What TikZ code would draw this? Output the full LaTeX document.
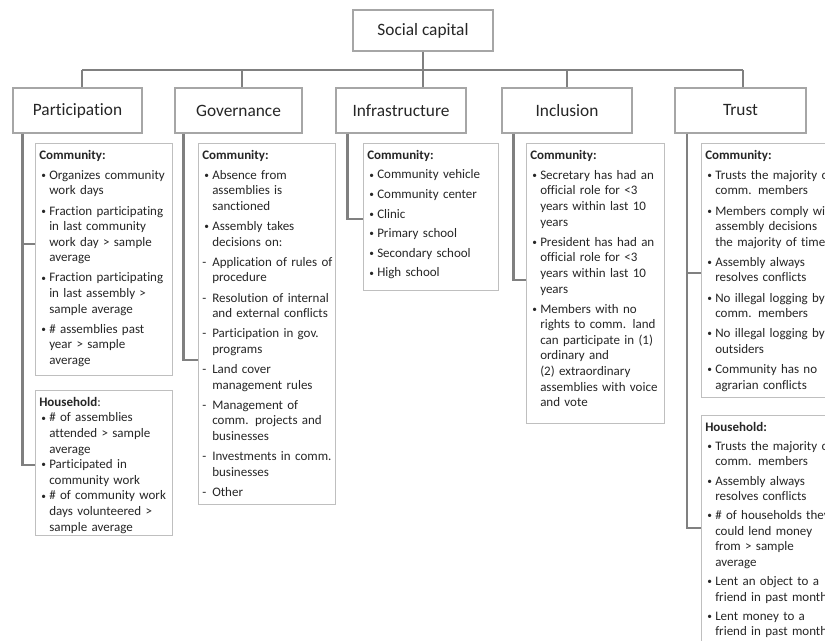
\documentclass[tikz,border=0pt]{standalone}
\usepackage{fontspec}
\setmainfont{Carlito}[Ligatures=NoCommon]
\usetikzlibrary{calc}
\newdimen\pxu \pxu=0.75pt
\newcommand{\itm}[2][4.5\pxu]{\par\vspace{#1}\hangindent=10\pxu\hangafter=1\noindent\makebox[10\pxu][l]{\hspace{2\pxu}\raisebox{0.8\pxu}{\scalebox{0.72}{•}}}#2}
\newcommand{\dsh}[2][4.5\pxu]{\par\vspace{#1}\hangindent=10\pxu\hangafter=1\noindent\makebox[10\pxu][l]{-}#2}
\newcommand{\hd}[1]{\noindent\rule{0pt}{10\pxu}#1}
\tikzset{
  lvl/.style={draw=gray!70, line width=0.8pt, fill=white, inner sep=0pt,
    minimum height=45\pxu, font=\fontsize{13pt}{15pt}\selectfont, text=black!85},
  det/.style={draw=gray!50, line width=0.8pt, fill=white, inner sep=0pt, anchor=north west},
  txt/.style={anchor=north west, inner sep=0pt, text width=200\pxu, align=left,
    font=\fontsize{9.75pt}{11.7pt}\selectfont, text=black!85},
  conn/.style={draw=gray, line width=1.6pt}
}
\begin{document}
\begin{tikzpicture}[x=0.75pt, y=-0.75pt]
\useasboundingbox (0,0) rectangle (825,641);
\clip (0,0) rectangle (825,641);

% top and level-1 boxes
\node[lvl, minimum width=140\pxu, minimum height=41\pxu] (soc) at (423,30.5) {Social capital};
\node[lvl, minimum width=129\pxu] (part) at (77.5,110.5) {Participation};
\node[lvl, minimum width=127\pxu] (gov) at (238.5,110.5) {Governance};
\node[lvl, minimum width=130\pxu] (infra) at (401,110.5) {Infrastructure};
\node[lvl, minimum width=130\pxu] (incl) at (567,110.5) {Inclusion};
\node[lvl, minimum width=131\pxu] (trust) at (740.5,110.5) {Trust};

% detail boxes
\node[det, minimum width=137\pxu, minimum height=232\pxu] (pcom) at (35,143) {};
\node[det, minimum width=137\pxu, minimum height=145\pxu] (phh) at (35,390) {};
\node[det, minimum width=137\pxu, minimum height=361\pxu] (gcom) at (198,143) {};
\node[det, minimum width=135\pxu, minimum height=147\pxu] (icom) at (363,143) {};
\node[det, minimum width=138\pxu, minimum height=280\pxu] (ncom) at (526,143) {};
\node[det, minimum width=140\pxu, minimum height=254\pxu] (tcom) at (701,143) {};
\node[det, minimum width=140\pxu, minimum height=260\pxu] (thh) at (701,415) {};

% texts
\node[txt] (pcomt) at ([shift={(4,6)}]pcom.north west) {%
\hd{\textbf{Community:}}
\itm{Organizes community\newline work days}
\itm{Fraction participating\newline in last community\newline work day > sample\newline average}
\itm{Fraction participating\newline in last assembly >\newline sample average}
\itm{\# assemblies past\newline year > sample\newline average}\par};

\node[txt] (phht) at ([shift={(4,6)}]phh.north west) {%
\hd{\textbf{Household}:}
\itm[0pt]{\# of assemblies\newline attended > sample\newline average}
\itm[0pt]{Participated in\newline community work}
\itm[0pt]{\# of community work\newline days volunteered >\newline sample average}\par};

\node[txt] (gcomt) at ([shift={(4,6)}]gcom.north west) {%
\hd{\textbf{Community:}}
\itm{Absence from\newline assemblies is\newline sanctioned}
\itm{Assembly takes\newline decisions on:}
\dsh{Application of rules of\newline procedure}
\dsh{Resolution of internal\newline and external conflicts}
\dsh{Participation in gov.\newline programs}
\dsh{Land cover\newline management rules}
\dsh{Management of\newline comm. projects and\newline businesses}
\dsh{Investments in comm.\newline businesses}
\dsh{Other}\par};

\node[txt] (icomt) at ([shift={(4,6)}]icom.north west) {%
\hd{\textbf{Community:}}
\itm[4\pxu]{Community vehicle}
\itm[4\pxu]{Community center}
\itm[4\pxu]{Clinic}
\itm[4\pxu]{Primary school}
\itm[4\pxu]{Secondary school}
\itm[4\pxu]{High school}\par};

\node[txt] (ncomt) at ([shift={(4,6)}]ncom.north west) {%
\hd{\textbf{Community:}}
\itm{Secretary has had an\newline official role for <3\newline years within last 10\newline years}
\itm{President has had an\newline official role for <3\newline years within last 10\newline years}
\itm{Members with no\newline rights to comm. land\newline can participate in (1)\newline ordinary and\newline (2) extraordinary\newline assemblies with voice\newline and vote}\par};

\node[txt] (tcomt) at ([shift={(4,6)}]tcom.north west) {%
\hd{\textbf{Community:}}
\itm{Trusts the majority of\newline comm. members}
\itm{Members comply with\newline assembly decisions\newline the majority of times}
\itm{Assembly always\newline resolves conflicts}
\itm{No illegal logging by\newline comm. members}
\itm{No illegal logging by\newline outsiders}
\itm{Community has no\newline agrarian conflicts}\par};

\node[txt] (thht) at ([shift={(4,6)}]thh.north west) {%
\hd{\textbf{Household:}}
\itm[3.5\pxu]{Trusts the majority of\newline comm. members}
\itm[3.5\pxu]{Assembly always\newline resolves conflicts}
\itm[3.5\pxu]{\# of households they\newline could lend money\newline from > sample\newline average}
\itm[3.5\pxu]{Lent an object to a\newline friend in past month}
\itm[3.5\pxu]{Lent money to a\newline friend in past month}\par};

% bus connectors
\coordinate (bus) at (423,70);
\coordinate (bP) at (82,70);
\coordinate (bG) at (242,70);
\coordinate (bI) at (423,70);
\coordinate (bN) at (567,70);
\coordinate (bT) at (743,70);
\draw[conn] (soc.south) -- (bus);
\draw[conn] (bP) -- (bT);
\draw[conn] (bP) -- (bP |- part.north);
\draw[conn] (bG) -- (bG |- gov.north);
\draw[conn] (bI) -- (bI |- infra.north);
\draw[conn] (bN) -- (bN |- incl.north);
\draw[conn] (bT) -- (bT |- trust.north);

% elbow connectors
\coordinate (lP) at ($(part.south west)+(10,0)$);
\coordinate (lG) at ($(gov.south west)+(9,0)$);
\coordinate (lI) at ($(infra.south west)+(12,0)$);
\coordinate (lN) at ($(incl.south west)+(12,0)$);
\coordinate (lT) at ($(trust.south west)+(12.5,0)$);
\draw[conn] (lP) |- ($(pcom.north west)+(0,101)$);
\draw[conn] (lP) |- ($(phh.north west)+(0,75)$);
\draw[conn] (lG) |- ($(gcom.north west)+(0,217)$);
\draw[conn] (lI) |- ($(icom.north west)+(0,76)$);
\draw[conn] (lN) |- ($(ncom.north west)+(0,137)$);
\draw[conn] (lT) |- ($(tcom.north west)+(0,130)$);
\draw[conn] (lT) |- ($(thh.north west)+(0,113)$);
\end{tikzpicture}
\end{document}
